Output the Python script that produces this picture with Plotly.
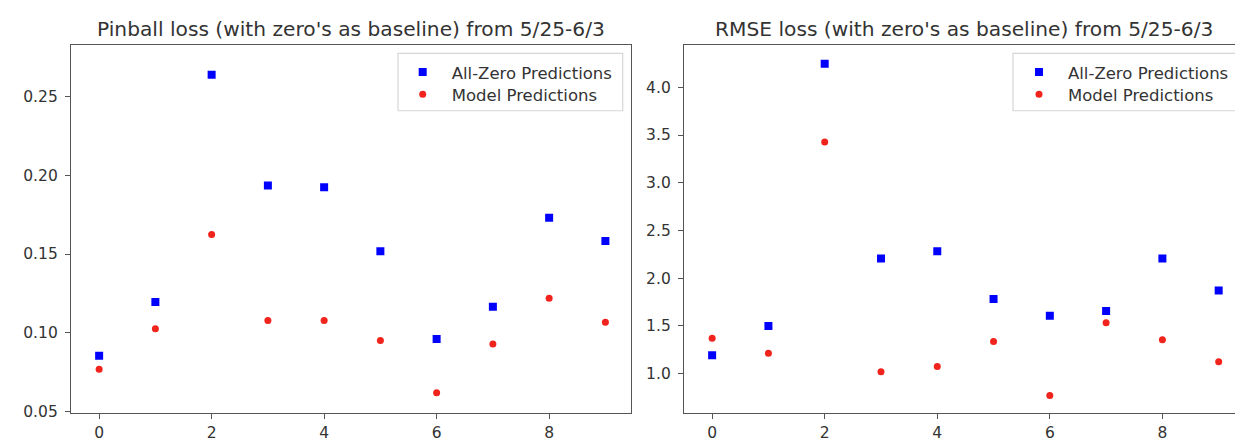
import plotly.graph_objects as go

# ---- data ----
x_idx = [0, 1, 2, 3, 4, 5, 6, 7, 8, 9]
pinball_zero = [0.0854, 0.1195, 0.264, 0.1935, 0.1924, 0.1517, 0.096, 0.1165, 0.173, 0.1583]
pinball_model = [0.0767, 0.1025, 0.1624, 0.1078, 0.1078, 0.095, 0.0619, 0.0929, 0.1219, 0.1067]
rmse_zero = [1.193, 1.498, 4.246, 2.207, 2.281, 1.782, 1.607, 1.656, 2.207, 1.870]
rmse_model = [1.372, 1.214, 3.428, 1.021, 1.074, 1.337, 0.772, 1.533, 1.354, 1.126]
titles = ["Pinball loss (with zero's as baseline) from 5/25-6/3",
          "RMSE loss (with zero's as baseline) from 5/25-6/3"]
names = ["All-Zero Predictions", "Model Predictions"]
pinball_ticks = [0.05, 0.10, 0.15, 0.20, 0.25]
rmse_ticks = [1.0, 1.5, 2.0, 2.5, 3.0, 3.5, 4.0]
x_ticks = [0, 2, 4, 6, 8]

W = 1235
H = 451      # figure height; the page is photographed to a 440-px picture
REFH = 440   # layout designed in 440-px picture coordinates
BLUE = "#0000ff"
RED = "#f0231d"
TXT = "#333333"
FONT = "DejaVu Sans"


def py(p):
    """paper y fraction for a pixel row of the 440-px picture"""
    return 1 - p / REFH


fig = go.Figure()

# left panel
fig.add_trace(go.Scatter(x=x_idx, y=pinball_zero, mode="markers", name=names[0],
                         marker=dict(symbol="square", size=8, color=BLUE),
                         xaxis="x", yaxis="y", legend="legend"))
fig.add_trace(go.Scatter(x=x_idx, y=pinball_model, mode="markers", name=names[1],
                         marker=dict(symbol="circle", size=7, color=RED),
                         xaxis="x", yaxis="y", legend="legend2"))
# right panel
fig.add_trace(go.Scatter(x=x_idx, y=rmse_zero, mode="markers", name=names[0],
                         marker=dict(symbol="square", size=8, color=BLUE),
                         xaxis="x2", yaxis="y2", legend="legend3"))
fig.add_trace(go.Scatter(x=x_idx, y=rmse_model, mode="markers", name=names[1],
                         marker=dict(symbol="circle", size=7, color=RED),
                         xaxis="x2", yaxis="y2", legend="legend4"))

ydom = [py(410), py(44.5)]
axis_common = dict(showgrid=False, zeroline=False, showline=True, linecolor="#555555",
                   linewidth=1.3, ticks="outside", ticklen=5, tickwidth=1.2,
                   tickcolor="#555555", tickfont=dict(family=FONT, size=15.5, color=TXT))

legend_common = dict(xanchor="left", yanchor="top", bgcolor="rgba(0,0,0,0)", borderwidth=0,
                     itemwidth=48, font=dict(family=FONT, size=16.5, color=TXT))

fig.update_layout(
    width=W, height=H,
    margin=dict(l=0, r=0, t=0, b=0),
    paper_bgcolor="white", plot_bgcolor="white",
    font=dict(family=FONT, color=TXT),
    xaxis=dict(domain=[71 / W, 630.7 / W], range=[-0.5, 9.45], tickvals=x_ticks,
               mirror=True, anchor="y", **axis_common),
    yaxis=dict(domain=ydom, range=[0.0491, 0.283], tickvals=pinball_ticks,
               tickformat=".2f", mirror=True, anchor="x", ticklabelstandoff=4, **axis_common),
    xaxis2=dict(domain=[684 / W, 1.0], range=[-0.5, 9.29], tickvals=x_ticks,
                mirror=True, anchor="y2", **axis_common),
    yaxis2=dict(domain=ydom, range=[0.59, 4.445], tickvals=rmse_ticks,
                tickformat=".1f", mirror=False, anchor="x2", ticklabelstandoff=4, **axis_common),
    legend=dict(x=393.7 / W, y=py(54.5), **legend_common),
    legend2=dict(x=393.7 / W, y=py(76.5), **legend_common),
    legend3=dict(x=1010 / W, y=py(54.5), **legend_common),
    legend4=dict(x=1010 / W, y=py(76.5), **legend_common),
    showlegend=True,
)

# legend frames
fig.add_shape(type="rect", xref="paper", yref="paper",
              x0=398 / W, x1=622.7 / W, y0=py(110), y1=py(53),
              line=dict(color="#d6d6d6", width=1.2), fillcolor="rgba(255,255,255,0.8)", layer="below")
fig.add_shape(type="rect", xref="paper", yref="paper",
              x0=1013 / W, x1=1245 / W, y0=py(110), y1=py(53),
              line=dict(color="#d6d6d6", width=1.2), fillcolor="rgba(255,255,255,0.8)", layer="below")

# titles
fig.add_annotation(text=titles[0], xref="paper", yref="paper", x=(71 + 630.7) / 2 / W,
                   y=py(43), xanchor="center", yanchor="bottom", showarrow=False,
                   font=dict(family=FONT, size=20.2, color=TXT))
fig.add_annotation(text=titles[1], xref="paper", yref="paper", x=(684 + 1243) / 2 / W,
                   y=py(43), xanchor="center", yanchor="bottom", showarrow=False,
                   font=dict(family=FONT, size=20.2, color=TXT))

fig.write_html(
    "out.html",
    config={"displayModeBar": False},
    post_script=(
        "document.body.style.margin='0';"
        "document.body.style.overflow='hidden';"
        "document.documentElement.style.overflow='hidden';"
    ),
)
